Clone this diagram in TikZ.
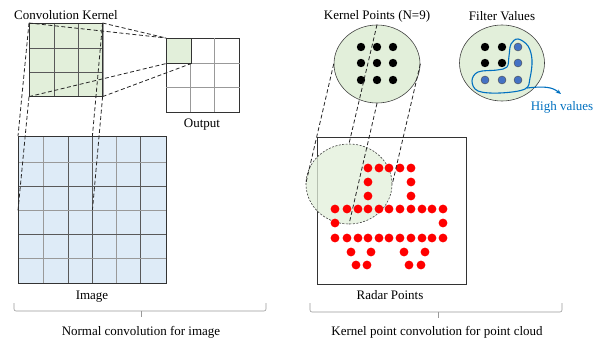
\documentclass[tikz,border=0pt]{standalone}
\usepackage{fontspec}
\setmainfont{Liberation Serif}
\usetikzlibrary{arrows.meta,shapes.geometric}
\definecolor{kgreen}{RGB}{226,239,218}
\definecolor{iblue}{RGB}{222,235,247}
\definecolor{hblue}{RGB}{0,112,192}
\definecolor{dblue}{RGB}{68,114,196}
\definecolor{rdot}{RGB}{255,0,0}
\begin{document}
\begin{tikzpicture}[x=1pt,y=-1pt,
  font=\fontsize{13}{15}\selectfont,
  lbl/.style={inner sep=0pt},
  boxnode/.style={draw=black!80, line width=0.6pt, inner sep=0pt, anchor=north west},
  conn/.style={dash pattern=on 4pt off 2.5pt, line width=0.8pt, black!85},
  gridA/.style={black!65, line width=0.5pt},
  gridB/.style={black!40, line width=0.5pt},
  bigcirc/.style={ellipse, draw=black!75, line width=0.6pt, fill=kgreen, inner sep=0pt, minimum width=86pt, minimum height=78pt},
  kdot/.style={fill=black},
  bdot/.style={fill=dblue, draw=black!70, line width=0.4pt},
  brace/.style={black!40, line width=0.6pt, rounded corners=2pt}]
\useasboundingbox (0,0) rectangle (604,342);

% ---------- left: normal convolution ----------
\node[boxnode, fill=iblue, minimum width=148pt, minimum height=147pt] (image) at (18,136) {};
\foreach \x in {43,116} \draw[gridB] (\x,136) -- (\x,283);
\foreach \x in {68,92,140} \draw[gridA] (\x,136) -- (\x,283);
\foreach \y in {162,210,258} \draw[gridB] (18,\y) -- (166,\y);
\foreach \y in {186,234} \draw[gridA] (18,\y) -- (166,\y);
\node[boxnode, draw=black!80, minimum width=148pt, minimum height=147pt] at (18,136) {};
\node[inner sep=0pt, anchor=north west, minimum width=74pt, minimum height=74pt] (proj) at (18,136) {};

\node[boxnode, fill=kgreen, minimum width=73pt, minimum height=73pt] (kernel) at (29,23) {};
\draw[black!40, line width=1.5pt] (103,23) -- (103,96);
\foreach \x in {54,78} \draw[gridA] (\x,23) -- (\x,96);
\foreach \y in {48,72} \draw[gridA] (29,\y) -- (102,\y);
\node[boxnode, minimum width=73pt, minimum height=73pt] at (29,23) {};

\node[boxnode, fill=kgreen, minimum width=24.5pt, minimum height=25pt] (cell) at (166,38) {};
\node[boxnode, minimum width=73pt, minimum height=74pt] (output) at (166,38) {};
\foreach \x in {190,214} \draw[gridB] (\x,38) -- (\x,112);
\foreach \y in {63,87} \draw[gridB] (166,\y) -- (240,\y);
\node[boxnode, fill=kgreen, minimum width=24.5pt, minimum height=25pt] at (166,38) {};

\draw[conn] (kernel.north west) -- (proj.north west);
\draw[conn] (kernel.south west) -- (proj.south west);
\draw[conn] (kernel.north east) -- (proj.north east);
\draw[conn] (kernel.south east) -- (proj.south east);
\draw[conn] (kernel.north west) -- (cell.north west);
\draw[conn] (kernel.north east) -- (cell.north west);
\draw[conn] (kernel.south west) -- (cell.south west);
\draw[conn] (kernel.south east) -- (cell.south east);

\node[lbl] (tkernel) at (66,15) {Convolution Kernel};
\node[lbl] (toutput) at (202,125) {Output};
\node[lbl] (timage) at (92,297) {Image};
\node[lbl] (tnormal) at (141,332) {Normal convolution for image};

\coordinate (bl1) at (14,303);
\coordinate (bl2) at (266,303);
\draw[brace] (bl1) -- (14,311) -- (266,311) -- (bl2);
\draw[black!40, line width=0.6pt] (141,311) -- (141,317);

% ---------- right: kernel point convolution ----------
\node[boxnode, minimum width=149pt, minimum height=147pt] (radar) at (317,137) {};
\node[bigcirc, minimum height=80pt, dash pattern=on 2pt off 1.5pt, fill opacity=0.75] (rc) at (349,184) {};

\foreach \x in {368,379,389,400,411} \fill[rdot] (\x,168) circle[radius=4.4pt];
\foreach \y in {182,196} { \fill[rdot] (368,\y) circle[radius=4.4pt]; \fill[rdot] (411,\y) circle[radius=4.4pt]; }
\foreach \x in {335,347,358,368,379,389,400,411,422,432,443} { \fill[rdot] (\x,209) circle[radius=4.4pt]; \fill[rdot] (\x,238) circle[radius=4.4pt]; }
\fill[rdot] (335,223) circle[radius=4.4pt];
\fill[rdot] (443,223) circle[radius=4.4pt];
\foreach \x in {351,371,404,425} \fill[rdot] (\x,252) circle[radius=4.4pt];
\foreach \x in {356,367,409,421} \fill[rdot] (\x,265) circle[radius=4.4pt];

\node[bigcirc] (kp) at (377,64) {};
\foreach \x in {361,377,393} \foreach \y in {47,63,80} \fill[kdot] (\x,\y) circle[radius=4.2pt];

\node[bigcirc, minimum width=85pt, minimum height=76pt] (fv) at (502,63) {};
\foreach \x in {485,502} \foreach \y in {47,63} \fill[kdot] (\x,\y) circle[radius=4.2pt];
\foreach \p in {(518,47),(518,63),(485,80),(502,80),(518,80)} \filldraw[bdot] \p circle[radius=4pt];

\draw[hblue, line width=1.1pt] plot[smooth cycle, tension=0.6] coordinates
  {(518,39) (528,46) (532,60) (530,78) (525,89) (500,93) (478,91) (472,81) (478,72) (497,70) (507,67) (509,56) (511,44)};
\coordinate (hv) at (561,94);
\draw[hblue, line width=1.1pt, -{Stealth[length=5pt,width=4pt]}] (527,88) .. controls (545,86) and (552,87) .. (hv);

\draw[conn] (kp.west) -- (rc.west);
\draw[conn] (kp.north) -- (rc.north);
\draw[conn] (kp.south) -- (rc.south);
\draw[conn] (kp.east) -- (rc.east);

\node[lbl] (tkp) at (377,16) {Kernel Points (N=9)};
\node[lbl] (tfv) at (502,16) {Filter Values};
\node[lbl, text=hblue] (thv) at (562,107) {High values};
\node[lbl] (tradar) at (390,295) {Radar Points};
\node[lbl] (tkpc) at (437,332) {Kernel point convolution for point cloud};

\coordinate (br1) at (310,303);
\coordinate (br2) at (562,303);
\draw[brace] (br1) -- (310,312) -- (562,312) -- (br2);
\draw[black!40, line width=0.6pt] (438,312) -- (438,318);
\end{tikzpicture}
\end{document}
